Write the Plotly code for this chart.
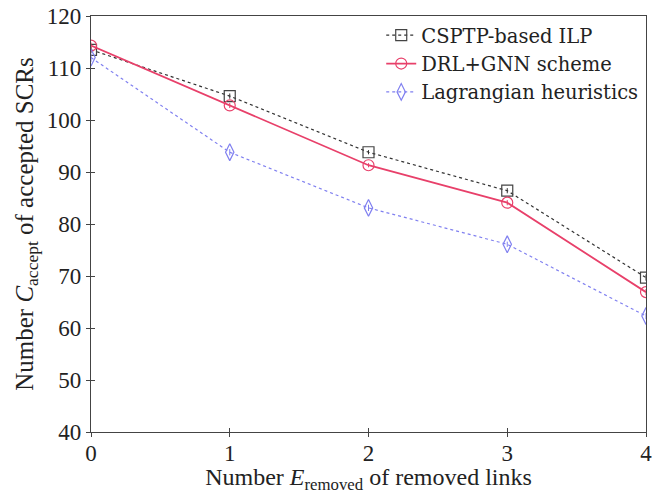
import plotly.graph_objects as go

x_vals = [0, 1, 2, 3, 4]
csptp = [113.5, 104.6, 93.8, 86.4, 69.7]
drl = [114.3, 102.8, 91.3, 84.1, 66.9]
lagr = [112.0, 93.8, 83.1, 76.1, 62.3]
err_csptp = [0.6, 0.5, 0.4, 0.5, 0.6]
err_drl = [0.6, 0.5, 0.4, 0.5, 0.6]
err_lagr = [0.8, 0.6, 0.6, 0.5, 0.6]

names = ["CSPTP-based ILP", "DRL+GNN scheme", "Lagrangian heuristics"]
x_ticks = [0, 1, 2, 3, 4]
y_ticks = [40, 50, 60, 70, 80, 90, 100, 110, 120]

FONT = "Liberation Serif"
AX = "#444444"

fig = go.Figure()
fig.add_trace(go.Scatter(
    x=x_vals, y=csptp, name=names[0], mode="lines+markers",
    line=dict(color="#333333", width=1.2, dash="dot"),
    marker=dict(symbol="square-open", size=11, color="#444444", line=dict(width=1.2)),
    error_y=dict(type="data", array=err_csptp, color="#333333", thickness=1, width=0),
))
fig.add_trace(go.Scatter(
    x=x_vals, y=drl, name=names[1], mode="lines+markers",
    line=dict(color="#e8406a", width=1.8),
    marker=dict(symbol="circle-open", size=11, color="#e8406a", line=dict(width=1.2)),
    error_y=dict(type="data", array=err_drl, color="#e8406a", thickness=1, width=0),
))
fig.add_trace(go.Scatter(
    x=x_vals, y=lagr, name=names[2], mode="lines+markers",
    line=dict(color="#8080f0", width=1.2, dash="dot"),
    marker=dict(symbol="diamond-tall-open", size=12, color="#8080f0", line=dict(width=1.2)),
    error_y=dict(type="data", array=err_lagr, color="#8080f0", thickness=1, width=0),
))
# overlay axes for the other half of the crossing ticks
fig.add_trace(go.Scatter(x=[None], y=[None], xaxis="x2", yaxis="y2", showlegend=False, hoverinfo="skip"))

fig.update_layout(
    width=652, height=494,
    margin=dict(l=91, r=6, t=16, b=62),
    paper_bgcolor="white", plot_bgcolor="white",
    font=dict(family=FONT, size=24, color="#222222"),
    xaxis=dict(range=[0, 4], tickvals=x_ticks, ticks="inside", ticklen=4, mirror=True, showline=True,
               ticklabeloverflow="allow", automargin=False,
               showgrid=False, zeroline=False, linecolor=AX, linewidth=1.2, tickcolor=AX, tickwidth=1.2,
               title=dict(text="Number <i>E</i><sub>removed</sub> of removed links", standoff=6,
                          font=dict(size=24)),
               tickfont=dict(size=23)),
    yaxis=dict(range=[40, 120], tickvals=y_ticks, ticks="outside", ticklen=4, mirror=True, showline=True,
               automargin=False,
               showgrid=False, zeroline=False, linecolor=AX, linewidth=1.2, tickcolor=AX, tickwidth=1.2,
               title=dict(text="Number <i>C</i><sub>accept</sub> of accepted SCRs", standoff=6,
                          font=dict(size=25)),
               tickfont=dict(size=23)),
    xaxis2=dict(range=[0, 4], tickvals=x_ticks, ticks="outside", overlaying="x", showticklabels=False,
                showline=False, showgrid=False, zeroline=False, tickcolor=AX, tickwidth=1.2, ticklen=4),
    yaxis2=dict(range=[40, 120], tickvals=y_ticks, ticks="inside", overlaying="y", showticklabels=False,
                showline=False, showgrid=False, zeroline=False, tickcolor=AX, tickwidth=1.2, ticklen=4),
    legend=dict(x=0.995, y=1.0, xanchor="right", yanchor="top", bgcolor="rgba(255,255,255,0)",
                font=dict(size=19.5, family="DejaVu Serif"), tracegroupgap=0, itemwidth=30),
    showlegend=True,
)

fig.write_html("out.html", post_script="document.body.style.margin='0';",
               config={"displayModeBar": False})
